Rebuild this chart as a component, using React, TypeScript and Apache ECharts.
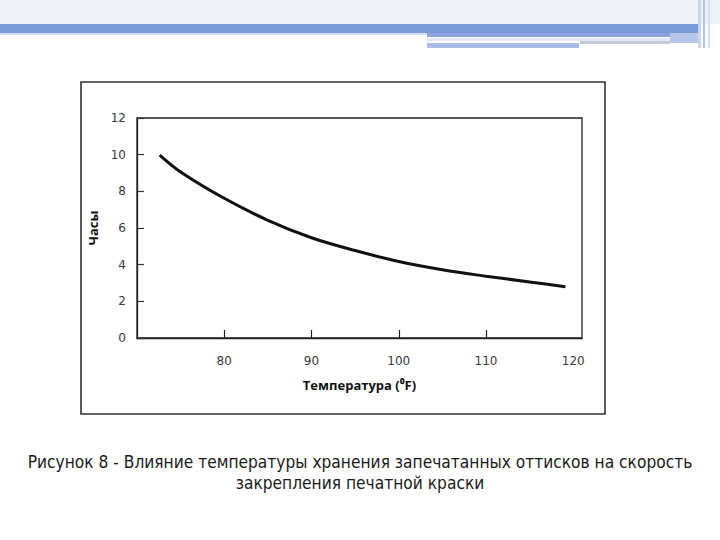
import React, { useEffect, useRef } from "react";
import * as echarts from "echarts";

const temperatures = [72.6, 75, 80, 85, 90, 95, 100, 105, 110, 115, 119.1];
const hours = [9.98, 9.06, 7.62, 6.42, 5.47, 4.77, 4.17, 3.72, 3.37, 3.06, 2.8];
const xTickLabels = [80, 90, 100, 110, 120];
const xTickMarks = [80, 90, 100, 110];
const yTickLabels = [0, 2, 4, 6, 8, 10, 12];
const xAxisTitle = "Температура (⁰F)";
const yAxisTitle = "Часы";
const captionLine1 = "Рисунок 8 - Влияние температуры хранения запечатанных оттисков на скорость";
const captionLine2 = "закрепления печатной краски";

export default function App() {
  const ref = useRef<HTMLDivElement>(null);
  useEffect(() => {
    if (!ref.current) return;
    const chart = echarts.init(ref.current, null, { renderer: "svg" });
    const option: any = {
      animation: false,
      backgroundColor: "#ffffff",
      grid: {
        left: 137,
        top: 118,
        width: 445,
        height: 220,
        show: true,
        borderColor: "#222",
        borderWidth: 1.3,
        backgroundColor: "transparent",
      },
      xAxis: {
        type: "value",
        min: 70,
        max: 121,
        interval: 10,
        axisLine: { show: true, onZero: false, lineStyle: { color: "#222", width: 1.3 } },
        axisTick: {
          show: true,
          inside: true,
          length: 8,
          customValues: xTickMarks,
          lineStyle: { color: "#222", width: 1.2 },
        },
        axisLabel: {
          customValues: xTickLabels,
          color: "#3a3a3a",
          fontSize: 12,
          fontFamily: "DejaVu Sans",
          margin: 17,
        },
        splitLine: { show: false },
        name: xAxisTitle,
        nameLocation: "middle",
        nameGap: 40,
        nameTextStyle: {
          color: "#111",
          fontSize: 13,
          fontWeight: "bold",
          fontFamily: "Open Sans",
        },
      },
      yAxis: {
        type: "value",
        min: 0,
        max: 12,
        interval: 2,
        axisLine: { show: true, lineStyle: { color: "#222", width: 1.3 } },
        axisTick: {
          show: true,
          inside: true,
          length: 7,
          lineStyle: { color: "#333", width: 1.2 },
        },
        axisLabel: {
          customValues: yTickLabels,
          color: "#3a3a3a",
          fontSize: 12,
          fontFamily: "DejaVu Sans",
          margin: 11,
        },
        splitLine: { show: false },
        name: yAxisTitle,
        nameLocation: "middle",
        nameGap: 33,
        nameRotate: 90,
        nameTextStyle: {
          color: "#111",
          fontSize: 13,
          fontWeight: "bold",
          fontFamily: "Open Sans",
        },
      },
      series: [
        {
          type: "line",
          data: temperatures.map((t, i) => [t, hours[i]]),
          smooth: 0.35,
          showSymbol: false,
          lineStyle: { color: "#111", width: 3 },
        },
      ],
      graphic: [
        { type: "rect", shape: { x: 0, y: 0, width: 720, height: 24 }, style: { fill: "#edf0f4" }, silent: true },
        { type: "rect", shape: { x: 0, y: 24, width: 700, height: 9 }, style: { fill: "#7a9ad8" }, silent: true },
        { type: "rect", shape: { x: 0, y: 33, width: 427, height: 2 }, style: { fill: "#d3ddf1" }, silent: true },
        { type: "rect", shape: { x: 427, y: 33, width: 245, height: 4 }, style: { fill: "#89a3dc" }, silent: true },
        { type: "rect", shape: { x: 427, y: 38, width: 243, height: 3 }, style: { fill: "#e4e8f6" }, silent: true },
        { type: "rect", shape: { x: 580, y: 41, width: 90, height: 3 }, style: { fill: "#c4cbd6" }, silent: true },
        { type: "rect", shape: { x: 427, y: 43, width: 152, height: 5 }, style: { fill: "#a9bce6" }, silent: true },
        { type: "rect", shape: { x: 670, y: 33, width: 30, height: 10 }, style: { fill: "#b7c7ea" }, silent: true },
        { type: "rect", shape: { x: 698, y: 0, width: 3, height: 48 }, style: { fill: "#c9d5ef" }, silent: true },
        { type: "rect", shape: { x: 703, y: 0, width: 2, height: 48 }, style: { fill: "#b3c3e8" }, silent: true },
        { type: "rect", shape: { x: 708, y: 0, width: 2, height: 48 }, style: { fill: "#d5def2" }, silent: true },
        {
          type: "rect",
          shape: { x: 81, y: 82, width: 524, height: 332 },
          style: { fill: "none", stroke: "#333", lineWidth: 1.6 },
          silent: true,
        },
        {
          type: "text",
          x: 360,
          y: 462,
          style: {
            text: captionLine1,
            fill: "#1a1a1a",
            fontSize: 17.2,
            fontFamily: "DejaVu Sans Condensed",
            align: "center",
            verticalAlign: "middle",
          },
        },
        {
          type: "text",
          x: 360,
          y: 483,
          style: {
            text: captionLine2,
            fill: "#1a1a1a",
            fontSize: 17.2,
            fontFamily: "DejaVu Sans Condensed",
            align: "center",
            verticalAlign: "middle",
          },
        },
      ],
    };
    chart.setOption(option);
    return () => chart.dispose();
  }, []);
  return (
    <div
      ref={ref}
      style={{ position: "fixed", left: 0, top: 0, width: 720, height: 540 }}
    />
  );
}
